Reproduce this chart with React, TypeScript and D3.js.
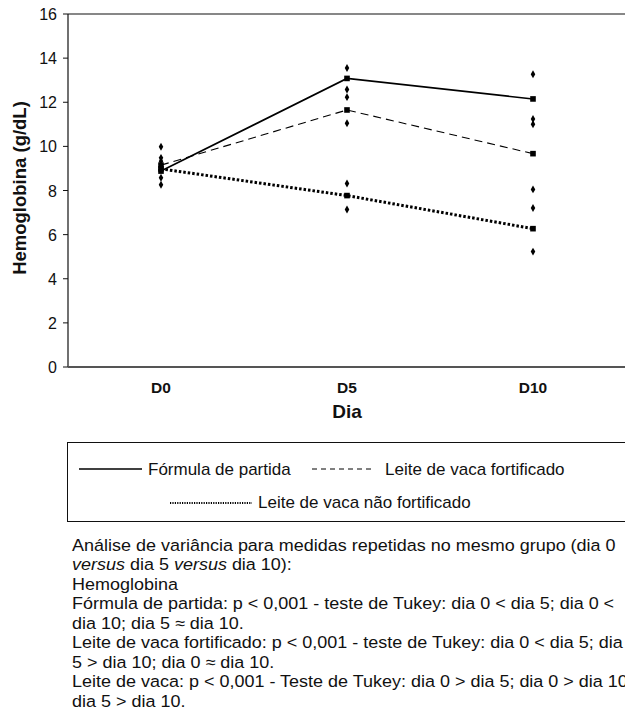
import * as d3 from "d3";

const days = ["D0", "D5", "D10"];
const yTicks = [0, 2, 4, 6, 8, 10, 12, 14, 16];

// mean per group
const formula = [8.88, 13.08, 12.15];
const fortified = [9.15, 11.65, 9.67];
const cowMilk = [8.98, 7.77, 6.27];

// individual values scattered at each day
const pointsD0 = [9.98, 9.48, 9.33, 9.18, 8.95, 8.58, 8.26];
const pointsD5 = [13.55, 12.58, 12.23, 11.05, 8.32, 7.14];
const pointsD10 = [13.27, 11.24, 11.0, 8.05, 7.21, 5.23];

const legendRow1 = ["Fórmula de partida", "Leite de vaca fortificado"];
const legendRow2 = "Leite de vaca não fortificado";

const notes = [
    [{ t: "Análise de variância para medidas repetidas no mesmo grupo (dia 0" }],
    [{ t: "versus", i: true }, { t: " dia 5 " }, { t: "versus", i: true }, { t: " dia 10):" }],
    [{ t: "Hemoglobina" }],
    [{ t: "Fórmula de partida: p < 0,001 - teste de Tukey: dia 0 < dia 5; dia 0 <" }],
    [{ t: "dia 10; dia 5 ≈ dia 10." }],
    [{ t: "Leite de vaca fortificado: p < 0,001 - teste de Tukey: dia 0 < dia 5; dia" }],
    [{ t: "5 > dia 10; dia 0 ≈ dia 10." }],
    [{ t: "Leite de vaca: p < 0,001 - Teste de Tukey: dia 0 > dia 5; dia 0 > dia 10;" }],
    [{ t: "dia 5 > dia 10." }],
];

const W = 625;
const H = 727;
const font = "Liberation Sans, Arial, sans-serif";

export default function App() {
    const x = d3.scalePoint().domain(days).range([68, 626]).padding(0.5);
    const y = d3.scaleLinear().domain([0, 16]).range([367, 14]);

    const line = d3
        .line<number>()
        .x((d, i) => x(days[i]) as number)
        .y((d) => y(d));

    const series = [
        { values: formula, dash: undefined, width: 1.6 },
        { values: fortified, dash: "8,5", width: 1.1 },
        { values: cowMilk, dash: "2.5,2", width: 3 },
    ];

    const scatter = [pointsD0, pointsD5, pointsD10];
    const diamond = d3.symbol().type(d3.symbolDiamond).size(18)();

    return (
        <svg
            width={W}
            height={H}
            style={{ position: "absolute", left: 0, top: 0, background: "#fff" }}
            fontFamily={font}
        >
            {/* frame */}
            <line x1={68} x2={626} y1={14} y2={14} stroke="#111" strokeWidth={1.2} />
            <line x1={68} x2={68} y1={14} y2={367} stroke="#111" strokeWidth={1.2} />
            <line x1={68} x2={626} y1={367} y2={367} stroke="#555" strokeWidth={1.8} />

            {yTicks.map((t) => (
                <g key={t}>
                    <line x1={63} x2={68} y1={y(t)} y2={y(t)} stroke="#111" />
                    <text x={57} y={y(t) + 6} textAnchor="end" fontSize={16} fill="#111">
                        {t}
                    </text>
                </g>
            ))}

            {days.map((d) => (
                <text key={d} x={x(d)} y={393} textAnchor="middle" fontSize={15.5} fontWeight="bold" fill="#111">
                    {d}
                </text>
            ))}

            <text x={347} y={418} textAnchor="middle" fontSize={19} fontWeight="bold" fill="#111">
                Dia
            </text>
            <text
                transform={`translate(26,188) rotate(-90)`}
                textAnchor="middle"
                fontSize={18.5}
                fontWeight="bold"
                fill="#111"
            >
                Hemoglobina (g/dL)
            </text>

            {/* individual points */}
            {scatter.map((pts, i) =>
                pts.map((v, j) => (
                    <path
                        key={`${i}-${j}`}
                        d={diamond || ""}
                        transform={`translate(${x(days[i])},${y(v)})`}
                        fill="#000"
                    />
                ))
            )}

            {/* mean lines */}
            {series.map((s, i) => (
                <g key={i}>
                    <path
                        d={line(s.values) || ""}
                        fill="none"
                        stroke="#000"
                        strokeWidth={s.width}
                        strokeDasharray={s.dash}
                    />
                    {s.values.map((v, j) => (
                        <rect
                            key={j}
                            x={(x(days[j]) as number) - 2.8}
                            y={y(v) - 2.8}
                            width={5.6}
                            height={5.6}
                            fill="#000"
                        />
                    ))}
                </g>
            ))}

            {/* legend */}
            <rect x={67.5} y={442.5} width={600} height={79} fill="none" stroke="#111" strokeWidth={1} />
            <line x1={79} x2={142} y1={469} y2={469} stroke="#000" strokeWidth={1.3} />
            <text x={148} y={475} fontSize={17} fill="#111">
                {legendRow1[0]}
            </text>
            <line x1={312} x2={372} y1={469} y2={469} stroke="#000" strokeWidth={1} strokeDasharray="5,4" />
            <text x={385} y={475} fontSize={17} fill="#111">
                {legendRow1[1]}
            </text>
            <line x1={170} x2={252} y1={503} y2={503} stroke="#000" strokeWidth={1.8} strokeDasharray="1.2,1.2" />
            <text x={258} y={508} fontSize={17} fill="#111">
                {legendRow2}
            </text>

            {/* notes: slightly wide lettering, as in the source */}
            <g transform="translate(72,0) scale(1.09,1)">
                {notes.map((parts, i) => (
                    <text key={i} x={0} y={551 + i * 19.5} fontSize={16.5} fill="#111">
                        {parts.map((p, k) => (
                            <tspan key={k} fontStyle={p.i ? "italic" : "normal"}>
                                {p.t}
                            </tspan>
                        ))}
                    </text>
                ))}
            </g>
        </svg>
    );
}
